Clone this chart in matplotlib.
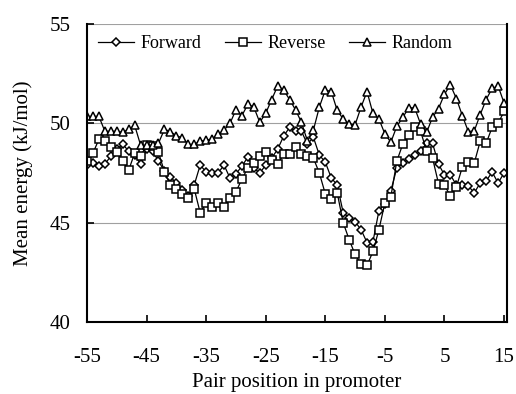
import numpy as np
import matplotlib
matplotlib.use("Agg")
import matplotlib.pyplot as plt

# Pair positions -55 .. 15
positions = list(range(-55, 16))

forward = [47.9, 48.0, 47.85, 47.95, 48.35, 48.7, 48.95, 48.6, 48.4, 47.95,
           48.7, 48.6, 48.1, 47.6, 47.3, 47.0, 46.65, 46.35, 46.9, 47.9,
           47.55, 47.5, 47.5, 47.9, 47.25, 47.45, 47.85, 48.3, 47.75, 47.5,
           47.9, 48.25, 48.7, 49.35, 49.8, 49.6, 49.6, 48.95, 49.3, 48.4,
           48.05, 47.25, 46.9, 45.5, 45.25, 45.05, 44.65, 44.0, 44.05, 45.6,
           45.95, 46.6, 47.75, 48.0, 48.2, 48.4, 48.6, 49.0, 49.0, 47.95,
           47.4, 47.4, 46.9, 46.9, 46.85, 46.5, 47.0, 47.1, 47.55, 47.0,
           47.5]

reverse = [48.1, 48.5, 49.2, 49.1, 48.8, 48.55, 48.1, 47.65, 48.5, 48.35,
           48.9, 48.85, 48.55, 47.55, 46.9, 46.7, 46.45, 46.25, 46.7, 45.5,
           46.0, 45.8, 46.0, 45.8, 46.25, 46.55, 47.2, 47.75, 48.0, 48.35,
           48.55, 48.15, 47.95, 48.45, 48.45, 48.8, 48.45, 48.35, 48.25, 47.5,
           46.45, 46.2, 46.5, 45.0, 44.15, 43.4, 42.9, 42.85, 43.55, 44.65,
           46.0, 46.3, 48.1, 48.95, 49.4, 49.8, 49.6, 48.6, 48.25, 46.97,
           46.88, 46.35, 46.8, 47.8, 48.05, 48.0, 49.1, 49.0, 49.8, 50.0,
           50.6]

random_seq = [50.35, 50.35, 50.35, 49.6, 49.6, 49.6, 49.55, 49.7, 49.9, 48.9,
              48.9, 48.9, 49.0, 49.7, 49.59, 49.37, 49.28, 48.94, 48.94, 49.11,
              49.14, 49.23, 49.45, 49.66, 50.0, 50.68, 50.39, 50.96, 50.82, 50.05,
              50.51, 51.2, 51.88, 51.68, 51.2, 50.68, 50.05, 49.11, 49.66, 50.82,
              51.68, 51.6, 50.65, 50.22, 49.97, 49.93, 50.82, 51.6, 50.5, 50.22,
              49.47, 49.05, 49.85, 50.3, 50.78, 50.78, 49.96, 49.54, 50.31, 50.74,
              51.47, 51.93, 51.25, 50.39, 49.59, 49.62, 50.44, 51.2, 51.76, 51.88,
              51.03]

xticks = [-55, -45, -35, -25, -15, -5, 5, 15]
yticks = [40, 45, 50, 55]

plt.rcParams['font.family'] = ['Liberation Serif', 'DejaVu Serif']
plt.rcParams['axes.unicode_minus'] = False

fig = plt.figure(figsize=(5.16, 3.94), dpi=100)
ax = fig.add_axes([0.1686, 0.1827, 0.814, 0.7563])

style = dict(color='black', linewidth=0.9, markerfacecolor='white',
             markeredgecolor='black', markeredgewidth=1.1)
ax.plot(positions, forward, marker='D', markersize=4.2, label='Forward', **style)
ax.plot(positions, reverse, marker='s', markersize=5.2, label='Reverse', **style)
ax.plot(positions, random_seq, marker='^', markersize=5.6, label='Random', **style)

ax.set_xlim(-55, 15.5)
ax.set_ylim(40, 55)
ax.set_xticks(xticks)
ax.set_yticks(yticks)
ax.yaxis.grid(True, color='#a0a0a0', linewidth=0.8)
ax.set_axisbelow(True)
ax.tick_params(direction='in', length=5, width=1.2, labelsize=15)
ax.tick_params(axis='x', pad=19)
ax.tick_params(axis='y', pad=12)
for side in ['left', 'bottom', 'right']:
    ax.spines[side].set_linewidth(1.5)
ax.spines['top'].set_visible(False)

ax.set_xlabel('Pair position in promoter', fontsize=15, labelpad=4)
ax.set_ylabel('Mean energy (kJ/mol)', fontsize=15, labelpad=12)

ax.legend(loc='upper left', bbox_to_anchor=(0.0, 1.0), ncol=3, frameon=False,
          fontsize=13, handlelength=2.0, handletextpad=0.35, columnspacing=1.3,
          borderaxespad=0.2)

fig.savefig('out.png', dpi=100)
